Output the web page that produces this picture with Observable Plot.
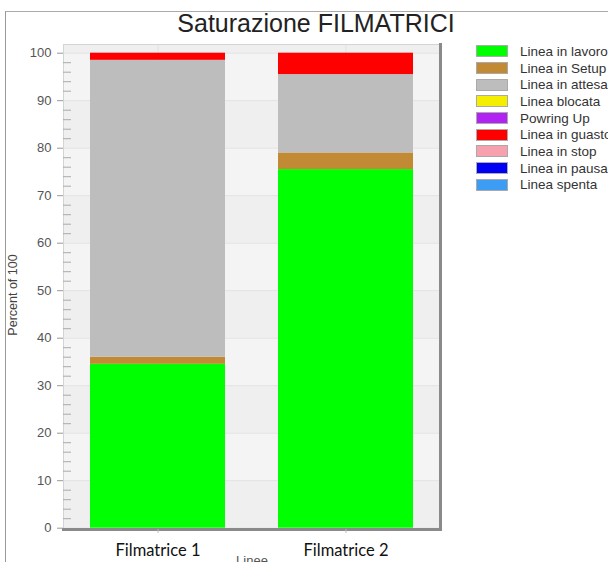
<!DOCTYPE html>
<html>
<head>
<meta charset="utf-8">
<script src="https://cdn.jsdelivr.net/npm/d3@7"></script>
<script src="https://cdn.jsdelivr.net/npm/@observablehq/plot@0.6"></script>
<style>
  html, body { margin: 0; padding: 0; background: #fff; }
  #chart { position: relative; width: 608px; height: 562px; overflow: hidden; font-family: "Liberation Sans", Arial, sans-serif; }
  #outer { position: absolute; left: 5px; top: 11px; right: -10px; bottom: -10px; border-left: 1.5px solid #999; border-top: 1.5px solid #aaa; }
  #title { position: absolute; left: 316px; top: 10.5px; transform: translateX(-50%); white-space: nowrap; font-size: 25px; line-height: 1; color: #222; }
  #legend { position: absolute; left: 476px; top: 43px; }
  .row { height: 16.7px; display: flex; align-items: center; white-space: nowrap; }
  .sw { width: 30px; height: 10px; border: 0.5px solid #aaa; margin-right: 12px; flex: none; }
  .lab { font-size: 13.5px; color: #333; }
  #plot { position: absolute; left: 0; top: 0; }
</style>
</head>
<body>
<div id="chart">
  <div id="outer"></div>
  <div id="plot"></div>
  <div id="title">Saturazione FILMATRICI</div>
  <div id="legend"></div>
</div>
<script>
// Machines on the x axis
const categorie = ["Filmatrice 1", "Filmatrice 2"];
// Line states, stacked bottom to top in this order
const stati = ["Linea in lavoro", "Linea in Setup", "Linea in attesa", "Linea blocata", "Powring Up", "Linea in guasto", "Linea in stop", "Linea in pausa", "Linea spenta"];
const colori = ["#00ff00", "#c28a34", "#bdbdbd", "#f6ee00", "#b023f2", "#ff0000", "#f7a0ae", "#0000f5", "#3d9df5"];
// Percent of time in each state
const filmatrice1 = [34.5, 1.5, 62.5, 0, 0, 1.5, 0, 0, 0];
const filmatrice2 = [75.5, 3.5, 16.5, 0, 0, 4.5, 0, 0, 0];
const yTicks = [0, 10, 20, 30, 40, 50, 60, 70, 80, 90, 100];

const serie = [filmatrice1, filmatrice2];
const data = categorie.flatMap((c, j) => stati.map((s, i) => ({linea: c, stato: s, valore: serie[j][i]})));
const minorTicks = d3.range(0, 101, 2).filter(v => v % 10 !== 0);
const bande = yTicks.slice(0, -1).map((v, i) => [v, yTicks[i + 1]]).filter((d, i) => i % 2 === 1);

const chart = Plot.plot({
  width: 460,
  height: 562,
  marginLeft: 63,
  marginRight: 20,
  marginTop: 44,
  marginBottom: 33,
  style: {background: "transparent", fontFamily: "'Liberation Sans', Arial, sans-serif", overflow: "hidden"},
  x: {domain: categorie, paddingInner: 0.28, paddingOuter: 0.14, label: null},
  y: {domain: [0, 100], range: [527.7, 52.7], label: null},
  color: {domain: stati, range: colori},
  marks: [
    Plot.frame({fill: "#efefef"}),
    Plot.rectY(bande, {y1: d => d[0], y2: d => d[1], fill: "#f4f4f4"}),
    Plot.ruleY(yTicks, {stroke: "#e3e3e3"}),
    Plot.ruleX(categorie, {stroke: "#e1e1e1"}),
    Plot.barY(data, {x: "linea", y: "valore", fill: "stato"}),
    Plot.frame({anchor: "top", stroke: "#d4d4d4"}),
    Plot.frame({anchor: "left", stroke: "#d4d4d4"}),
    Plot.frame({anchor: "right", stroke: "#8a8a8a", strokeWidth: 3}),
    Plot.frame({anchor: "bottom", stroke: "#8a8a8a", strokeWidth: 3}),
    Plot.axisY({ticks: yTicks, tickSize: 6, tickPadding: 6, fontSize: 13, fill: "#555", stroke: "#999", label: null}),
    Plot.axisY({ticks: minorTicks, tickSize: 8, dx: 8, tickFormat: () => "", stroke: "#aaa", label: null}),
    Plot.axisX({tickSize: 4, tickPadding: 11, fontSize: 16.5, fontFamily: "Lato", fill: "#111", stroke: "#bbb", label: null}),
    Plot.text(["Linee"], {frameAnchor: "bottom", lineAnchor: "top", dy: 26, fontSize: 13, fill: "#555"}),
    Plot.text(["Percent of 100"], {frameAnchor: "left", textAnchor: "middle", rotate: -90, dx: -51, dy: 8, fontSize: 12.5, fill: "#444"})
  ]
});
document.getElementById("plot").appendChild(chart);

// Legend, one row per state
const legend = d3.select("#legend");
stati.forEach((s, i) => {
  const row = legend.append("div").attr("class", "row");
  row.append("div").attr("class", "sw").style("background", colori[i]);
  row.append("span").attr("class", "lab").text(s);
});
</script>
</body>
</html>
